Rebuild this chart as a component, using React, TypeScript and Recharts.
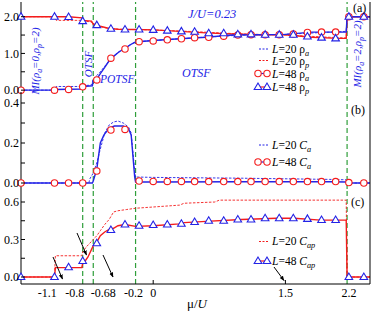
import React from "react";
import { LineChart, Line, XAxis, YAxis, ReferenceLine } from "recharts";

// mu/U of the L=48 symbols (same in all three panels)
const muPts = [-1.5, -1.12, -0.96, -0.8, -0.64, -0.48, -0.32, -0.16, 0, 0.16, 0.32, 0.47, 0.63, 0.8, 0.96, 1.11, 1.27, 1.43, 1.59, 1.75, 1.91, 2.07, 2.22, 2.39];
const rhoA48 = [0, 0, 0.02, 0.09, 0.28, 0.87, 1.12, 1.32, 1.34, 1.37, 1.4, 1.43, 1.44, 1.47, 1.5, 1.51, 1.51, 1.51, 1.53, 1.57, 1.58, 1.58, 2.0, 2.0];
const rhoP48 = [2.0, 2.0, 1.99, 1.88, 1.77, 1.67, 1.65, 1.65, 1.64, 1.62, 1.6, 1.59, 1.55, 1.55, 1.52, 1.52, 1.51, 1.51, 1.51, 1.46, 1.43, 1.41, 2.0, 2.0];
const ca48 = [0, 0, 0, 0, 0.06, 0.265, 0.268, 0.01, 0.008, 0.008, 0.008, 0.007, 0.007, 0.007, 0.007, 0.007, 0.007, 0.007, 0.007, 0.007, 0.007, 0.007, 0.002, 0];
const cap48 = [0, 0, 0.078, 0.128, 0.27, 0.376, 0.42, 0.41, 0.416, 0.42, 0.426, 0.44, 0.45, 0.45, 0.46, 0.46, 0.47, 0.47, 0.47, 0.465, 0.456, 0.456, 0, 0];

// curves (panel a)
const muRhoA48 = [-1.5, -1.12, -1.11, -0.81, -0.8, -0.69, -0.68, -0.64, -0.6, -0.55, -0.5, -0.45, -0.4, -0.35, -0.3, -0.25, -0.2, 0, 0.3, 0.6, 0.9, 1.2, 1.5, 1.8, 2.1, 2.19, 2.2, 2.46];
const rhoA48Line = [0, 0, 0.02, 0.03, 0.1, 0.12, 0.26, 0.3, 0.45, 0.62, 0.8, 0.92, 1.02, 1.1, 1.17, 1.25, 1.31, 1.35, 1.4, 1.44, 1.5, 1.51, 1.52, 1.58, 1.58, 1.58, 2.0, 2.0];
const muRhoP48 = [-1.5, -1.12, -0.96, -0.81, -0.8, -0.7, -0.68, -0.6, -0.5, -0.4, -0.2, 0, 0.3, 0.6, 0.9, 1.2, 1.5, 1.8, 2.1, 2.19, 2.2, 2.46];
const rhoP48Line = [2, 2, 2, 1.97, 1.9, 1.88, 1.8, 1.74, 1.68, 1.66, 1.65, 1.64, 1.6, 1.56, 1.53, 1.51, 1.51, 1.44, 1.41, 1.41, 2.0, 2.0];
const muL20a = [-1.5, -1.12, -1.1, -0.81, -0.8, -0.7, -0.68, -0.6, -0.5, -0.4, -0.3, -0.2, 0, 0.5, 1, 1.5, 2, 2.19, 2.2, 2.46];
const rhoA20 = [0, 0, 0.1, 0.1, 0.12, 0.14, 0.3, 0.5, 0.8, 1.03, 1.18, 1.32, 1.35, 1.43, 1.5, 1.52, 1.58, 1.6, 2.0, 2.0];
const rhoP20 = [2, 2, 1.9, 1.9, 1.88, 1.86, 1.78, 1.73, 1.68, 1.66, 1.65, 1.65, 1.64, 1.59, 1.53, 1.5, 1.44, 1.42, 2, 2];

// curves (panel b)
const muCa48 = [-1.5, -0.69, -0.68, -0.64, -0.6, -0.56, -0.5, -0.44, -0.34, -0.28, -0.25, -0.21, -0.2, 0, 1, 2, 2.19, 2.2, 2.46];
const ca48Line = [0, 0, 0.01, 0.07, 0.2, 0.24, 0.275, 0.285, 0.285, 0.27, 0.24, 0.03, 0.005, 0.005, 0.006, 0.006, 0.005, 0, 0];
const muCa20 = [-1.5, -0.73, -0.72, -0.68, -0.64, -0.6, -0.55, -0.5, -0.45, -0.4, -0.34, -0.28, -0.25, -0.21, -0.2, 0, 1, 2, 2.19, 2.2, 2.46];
const ca20Line = [0, 0, 0.02, 0.05, 0.1, 0.17, 0.25, 0.29, 0.305, 0.31, 0.3, 0.28, 0.25, 0.06, 0.03, 0.028, 0.024, 0.018, 0.016, 0, 0];

// curves (panel c)
const muCap48 = [-1.5, -1.12, -1.11, -0.81, -0.8, -0.77, -0.74, -0.68, -0.64, -0.6, -0.55, -0.5, -0.45, -0.4, -0.32, -0.2, 0, 0.3, 0.35, 0.6, 1, 1.4, 1.6, 1.9, 2.19, 2.2, 2.46];
const cap48Line = [0, 0, 0.075, 0.075, 0.11, 0.13, 0.16, 0.25, 0.28, 0.33, 0.36, 0.38, 0.39, 0.41, 0.42, 0.405, 0.41, 0.425, 0.435, 0.445, 0.46, 0.47, 0.47, 0.455, 0.455, 0, 0];
const muCap20 = [-1.5, -1.12, -1.11, -0.81, -0.8, -0.76, -0.72, -0.68, -0.64, -0.6, -0.55, -0.5, -0.45, -0.4, -0.3, -0.2, 0, 0.3, 0.35, 0.7, 0.75, 2.19, 2.2, 2.46];
const cap20Line = [0, 0, 0.17, 0.17, 0.2, 0.24, 0.27, 0.3, 0.33, 0.37, 0.42, 0.46, 0.52, 0.53, 0.54, 0.55, 0.56, 0.575, 0.59, 0.6, 0.615, 0.615, 0, 0];

const phaseLines = [-0.8, -0.68, -0.2, 2.2];
const xTickVals = [-1.1, -0.8, -0.68, -0.2, 0, 1.5, 2.2];
const xTickShift: Record<string, number> = { "-1.1": -9, "-0.8": -8, "-0.68": 10, "-0.2": -2, "0": 0, "1.5": 0, "2.2": 2 };

const RED = "#f41c1c";
const BLUE = "#2323e6";
const GREEN = "#2f9e3a";
const FONT = "Liberation Serif, Times New Roman, serif";
const X_DOMAIN: [number, number] = [-1.5, 2.46];

const pts = (xs: number[], ys: number[]) => xs.map((x, i) => ({ x, y: ys[i] }));

const circleDot = (p: any) => (
  <circle key={p.index} cx={p.cx} cy={p.cy} r={3.2} fill="#fff" stroke={RED} strokeWidth={1.1} />
);
const triDot = (p: any) => (
  <polygon
    key={p.index}
    points={`${p.cx},${p.cy - 4} ${p.cx - 3.8},${p.cy + 2.5} ${p.cx + 3.8},${p.cy + 2.5}`}
    fill="#fff"
    stroke={BLUE}
    strokeWidth={1.1}
  />
);

const leftTick = (labels: number[], digits: number) => (p: any) => {
  const v = p.payload.value;
  const lab = labels.some((l) => Math.abs(l - v) < 1e-6);
  return (
    <g>
      <line x1={p.x + 2} x2={p.x + 6} y1={p.y} y2={p.y} stroke="#000" />
      {lab && (
        <text x={p.x} y={p.y} dy="0.36em" textAnchor="end" fontFamily={FONT} fontSize={12} fill="#000">
          {v.toFixed(digits)}
        </text>
      )}
    </g>
  );
};
const rightTick = (p: any) => <line x1={p.x - 4} x2={p.x} y1={p.y} y2={p.y} stroke="#000" />;
const topTick = (p: any) => <line x1={p.x} x2={p.x} y1={p.y} y2={p.y + 4} stroke="#000" />;
const bottomTick = (p: any) => <line x1={p.x} x2={p.x} y1={p.y} y2={p.y - 4} stroke="#000" />;
const labelTick = (p: any) => {
  const v = p.payload.value;
  const real = v === 0 || v === 1.5;
  return (
    <g>
      {real && <line x1={p.x} x2={p.x} y1={p.y} y2={p.y - 4} stroke="#000" />}
      <text x={p.x + (xTickShift[String(v)] ?? 0)} y={p.y + 4} dy="0.71em" textAnchor="middle" fontFamily={FONT} fontSize={12} fill="#000">
        {String(v)}
      </text>
    </g>
  );
};

function Panel({
  top,
  height,
  yDomain,
  yTicks,
  yLabels,
  last,
  children,
}: {
  top: number;
  height: number;
  yDomain: [number, number];
  yTicks: number[];
  yLabels: number[];
  last?: boolean;
  children: React.ReactNode;
}) {
  return (
    <div style={{ position: "absolute", left: 0, top }}>
      <LineChart width={374} height={height} margin={{ top: 2, right: 0, bottom: last ? 0 : 10, left: 0 }}>
        <XAxis
          type="number"
          dataKey="x"
          domain={X_DOMAIN}
          ticks={last ? xTickVals : [0, 1.5]}
          interval={0}
          height={last ? 28 : 0}
          tickSize={0}
          tickMargin={0}
          tickLine={false}
          axisLine={{ stroke: "#000" }}
          tick={last ? labelTick : bottomTick}
        />
        <XAxis
          xAxisId="t"
          orientation="top"
          type="number"
          dataKey="x"
          domain={X_DOMAIN}
          ticks={[0, 1.5]}
          interval={0}
          height={0}
          tickSize={0}
          tickMargin={0}
          tickLine={false}
          axisLine={{ stroke: "#000" }}
          tick={topTick}
        />
        <YAxis
          type="number"
          dataKey="y"
          domain={yDomain}
          ticks={yTicks}
          interval={0}
          width={21}
          tickSize={0}
          tickMargin={2}
          tickLine={false}
          axisLine={{ stroke: "#000" }}
          tick={leftTick(yLabels, 1)}
        />
        <YAxis
          yAxisId="r"
          orientation="right"
          type="number"
          domain={yDomain}
          ticks={yTicks}
          interval={0}
          width={4}
          tickSize={0}
          tickMargin={0}
          tickLine={false}
          axisLine={{ stroke: "#000" }}
          tick={rightTick}
        />
        {phaseLines.map((x) => (
          <ReferenceLine key={x} x={x} stroke={GREEN} strokeWidth={1.2} strokeDasharray="5 3" />
        ))}
        {children}
      </LineChart>
    </div>
  );
}

const dashed = (data: { x: number; y: number }[], color: string) => (
  <Line data={data} dataKey="y" type="linear" stroke={color} strokeWidth={0.9} strokeDasharray="2.5 1.5" dot={false} activeDot={false} isAnimationActive={false} />
);
const solid = (data: { x: number; y: number }[], color: string) => (
  <Line data={data} dataKey="y" type="linear" stroke={color} strokeWidth={1.4} dot={false} activeDot={false} isAnimationActive={false} />
);
const marks = (data: { x: number; y: number }[], dot: (p: any) => React.ReactElement) => (
  <Line data={data} dataKey="y" type="linear" stroke="none" dot={dot} activeDot={false} isAnimationActive={false} />
);

// text pieces: n = normal, i = italic, s = italic subscript
type Part = [string, "n" | "i" | "s"];
const rich = (parts: Part[]) =>
  parts.map(([s, k], i) => {
    const prevSub = i > 0 && parts[i - 1][1] === "s";
    const dy = k === "s" ? (prevSub ? 0 : 3) : prevSub ? -3 : 0;
    return (
      <tspan key={i} dy={dy} fontStyle={k === "n" ? "normal" : "italic"} fontSize={k === "s" ? "0.72em" : undefined}>
        {s}
      </tspan>
    );
  });

function Overlay() {
  const ann = { fontFamily: FONT, fontStyle: "italic" as const, fill: BLUE };
  const leg = { fontFamily: FONT, fontSize: 11.5, fill: "#000" };
  return (
    <svg width={374} height={312} style={{ position: "absolute", left: 0, top: 0, pointerEvents: "none" }}>
      <defs>
        <marker id="ah" viewBox="0 0 10 10" refX="9" refY="5" markerWidth="5" markerHeight="5" orient="auto">
          <path d="M0,1 L10,5 L0,9 z" fill="#000" />
        </marker>
      </defs>
      {/* panel a annotations */}
      <text x={188} y={18} fontSize={12.5} {...ann}>J/U=0.23</text>
      <text x={353} y={12} fontFamily={FONT} fontSize={12} fill="#000">(a)</text>
      <text transform="translate(39,61) rotate(-90)" textAnchor="middle" fontSize={11} {...ann}>
        {rich([["MI(ρ", "i"], ["a", "s"], ["=0,ρ", "i"], ["p", "s"], ["=2)", "i"]])}
      </text>
      <text transform="translate(92,64) rotate(-90)" textAnchor="middle" fontSize={11} {...ann}>OTSF</text>
      <text x={100} y={83} fontSize={11.5} {...ann}>POTSF</text>
      <text x={182} y={77} fontSize={12} {...ann}>OTSF</text>
      <text transform="translate(361,54) rotate(-90)" textAnchor="middle" fontSize={11} {...ann}>
        {rich([["MI(ρ", "i"], ["a", "s"], ["=2,ρ", "i"], ["p", "s"], ["=2)", "i"]])}
      </text>
      {/* panel a legend */}
      <line x1={259} x2={268} y1={49} y2={49} stroke={BLUE} strokeDasharray="2 1.5" />
      <text x={272} y={53} {...leg}>{rich([["L", "i"], ["=20 ρ", "n"], ["a", "s"]])}</text>
      <line x1={259} x2={268} y1={60.5} y2={60.5} stroke={RED} strokeDasharray="2 1.5" />
      <text x={272} y={64.5} {...leg}>{rich([["L", "i"], ["=20 ρ", "n"], ["p", "s"]])}</text>
      <line x1={258} x2={267} y1={73.5} y2={73.5} stroke={BLUE} strokeWidth={1.2} />
      <circle cx={258} cy={73.5} r={3.2} fill="#fff" stroke={RED} strokeWidth={1.1} />
      <circle cx={267} cy={73.5} r={3.2} fill="#fff" stroke={RED} strokeWidth={1.1} />
      <text x={272} y={77.5} {...leg}>{rich([["L", "i"], ["=48 ρ", "n"], ["a", "s"]])}</text>
      <line x1={258} x2={267} y1={87} y2={87} stroke={RED} strokeWidth={1.2} />
      <polygon points="258,83 254.2,89.5 261.8,89.5" fill="#fff" stroke={BLUE} strokeWidth={1.1} />
      <polygon points="267,83 263.2,89.5 270.8,89.5" fill="#fff" stroke={BLUE} strokeWidth={1.1} />
      <text x={272} y={91} {...leg}>{rich([["L", "i"], ["=48 ρ", "n"], ["p", "s"]])}</text>
      {/* panel b */}
      <text x={351} y={114} fontFamily={FONT} fontSize={12} fill="#000">(b)</text>
      <line x1={259} x2={268} y1={145} y2={145} stroke={BLUE} strokeDasharray="2 1.5" />
      <text x={272} y={149} {...leg}>{rich([["L", "i"], ["=20 ", "n"], ["C", "i"], ["a", "s"]])}</text>
      <line x1={258} x2={267} y1={162} y2={162} stroke={BLUE} strokeWidth={1.2} />
      <circle cx={258} cy={162} r={3.2} fill="#fff" stroke={RED} strokeWidth={1.1} />
      <circle cx={267} cy={162} r={3.2} fill="#fff" stroke={RED} strokeWidth={1.1} />
      <text x={272} y={166} {...leg}>{rich([["L", "i"], ["=48 ", "n"], ["C", "i"], ["a", "s"]])}</text>
      {/* panel c */}
      <text x={351} y={206} fontFamily={FONT} fontSize={12} fill="#000">(c)</text>
      <line x1={259} x2={268} y1={241.5} y2={241.5} stroke={RED} strokeDasharray="2 1.5" />
      <text x={272} y={245} {...leg}>{rich([["L", "i"], ["=20 ", "n"], ["C", "i"], ["ap", "s"]])}</text>
      <line x1={258} x2={267} y1={261} y2={261} stroke={RED} strokeWidth={1.2} />
      <polygon points="258,257 254.2,263.5 261.8,263.5" fill="#fff" stroke={BLUE} strokeWidth={1.1} />
      <polygon points="267,257 263.2,263.5 270.8,263.5" fill="#fff" stroke={BLUE} strokeWidth={1.1} />
      <text x={272} y={265} {...leg}>{rich([["L", "i"], ["=48 ", "n"], ["C", "i"], ["ap", "s"]])}</text>
      {/* arrows */}
      <g stroke="#000" strokeWidth={1} markerEnd="url(#ah)">
        <line x1={53} y1={257} x2={62.5} y2={279} />
        <line x1={77} y1={233} x2={86.5} y2={255} />
        <line x1={103} y1={255} x2={113} y2={277} />
        <line x1={274} y1={267} x2={284} y2={280.5} />
      </g>
      <text x={197} y={308} textAnchor="middle" fontFamily={FONT} fontSize={13} fill="#000">
        {rich([["μ/", "n"], ["U", "i"]])}
      </text>
    </svg>
  );
}

export default function App() {
  return (
    <div style={{ position: "absolute", left: 0, top: 0, width: 374, height: 312, background: "#fff", overflow: "hidden" }}>
      <Panel top={0} height={102} yDomain={[-0.05, 2.4]} yTicks={[0, 0.5, 1, 1.5, 2]} yLabels={[0, 1, 2]}>
        {dashed(pts(muL20a, rhoA20), BLUE)}
        {dashed(pts(muL20a, rhoP20), RED)}
        {solid(pts(muRhoP48, rhoP48Line), RED)}
        {solid(pts(muRhoA48, rhoA48Line), BLUE)}
        {marks(pts(muPts, rhoA48), circleDot)}
        {marks(pts(muPts, rhoP48), triDot)}
      </Panel>
      <Panel top={90} height={109} yDomain={[-0.03, 0.455]} yTicks={[0, 0.1, 0.2, 0.3, 0.4]} yLabels={[0, 0.2, 0.4]}>
        {dashed(pts(muCa20, ca20Line), BLUE)}
        {solid(pts(muCa48, ca48Line), BLUE)}
        {marks(pts(muPts, ca48), circleDot)}
      </Panel>
      <Panel top={187} height={125} yDomain={[-0.056, 0.704]} yTicks={[0, 0.15, 0.3, 0.45, 0.6]} yLabels={[0, 0.3, 0.6]} last>
        {dashed(pts(muCap20, cap20Line), RED)}
        {solid(pts(muCap48, cap48Line), RED)}
        {marks(pts(muPts, cap48), triDot)}
      </Panel>
      <Overlay />
    </div>
  );
}
